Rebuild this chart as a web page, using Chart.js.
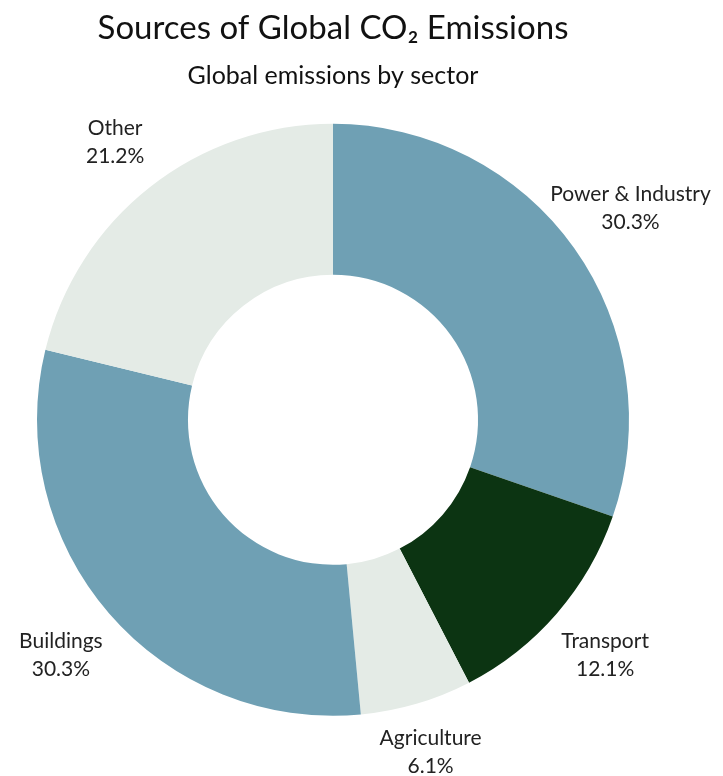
<!DOCTYPE html>
<html>
<head>
<meta charset="utf-8">
<title>Sources of Global CO2 Emissions</title>
<script src="https://cdn.jsdelivr.net/npm/chart.js@4/dist/chart.umd.min.js"></script>
<style>
  html, body { margin: 0; padding: 0; background: #fff; }
  #wrap { width: 723px; height: 776px; position: relative; }
</style>
</head>
<body>
<div id="wrap"><canvas id="co2Chart"></canvas></div>
<script>
const sectors = ["Power & Industry", "Transport", "Agriculture", "Buildings", "Other"];
const shares = [30.3, 12.1, 6.1, 30.3, 21.2];
const sectorColors = ["#6fa0b4", "#0c3412", "#e4ebe6", "#6fa0b4", "#e4ebe6"];

const FONT = "Lato, 'Noto Sans', sans-serif";

// labels sit outside the ring; the nearest edge of the text box touches
// a point a little beyond the outer radius
const outsideLabels = {
  id: "outsideLabels",
  afterDatasetsDraw(chart) {
    const ctx = chart.ctx;
    const meta = chart.getDatasetMeta(0);
    const lineGap = 28;
    ctx.save();
    ctx.font = "21px " + FONT;
    ctx.fillStyle = "#222";
    ctx.textAlign = "center";
    ctx.textBaseline = "middle";
    meta.data.forEach((arc, i) => {
      const p = arc.getProps(["x", "y", "startAngle", "endAngle", "outerRadius"], true);
      const mid = (p.startAngle + p.endAngle) / 2;
      const dx = Math.cos(mid), dy = Math.sin(mid);
      const line1 = sectors[i];
      const line2 = shares[i].toFixed(1) + "%";
      const halfW = Math.max(ctx.measureText(line1).width, ctx.measureText(line2).width) / 2;
      const halfH = lineGap;
      const tx = Math.abs(dx) > 1e-6 ? halfW / Math.abs(dx) : Infinity;
      const ty = Math.abs(dy) > 1e-6 ? halfH / Math.abs(dy) : Infinity;
      const r = p.outerRadius + 21 + Math.min(tx, ty);
      const x = p.x + dx * r;
      const y = p.y + dy * r;
      ctx.fillText(line1, x, y - lineGap / 2);
      ctx.fillText(line2, x, y + lineGap / 2);
    });
    ctx.restore();
  }
};

new Chart(document.getElementById("co2Chart"), {
  type: "doughnut",
  data: {
    labels: sectors,
    datasets: [
      {
        data: shares,
        backgroundColor: sectorColors,
        borderWidth: 0
      }
    ]
  },
  options: {
    responsive: true,
    maintainAspectRatio: false,
    animation: false,
    cutout: "49%",
    layout: { padding: { left: 37, right: 94, top: 0, bottom: 60 } },
    plugins: {
      legend: { display: false },
      tooltip: { enabled: false },
      title: {
        display: true,
        text: "Sources of Global CO\u2082 Emissions",
        color: "#111",
        font: { family: FONT, size: 33, weight: "normal" },
        padding: { top: 9, bottom: 0 }
      },
      subtitle: {
        display: true,
        text: "Global emissions by sector",
        color: "#111",
        font: { family: FONT, size: 25, weight: "normal" },
        padding: { top: 12, bottom: 33 }
      }
    }
  },
  plugins: [outsideLabels]
});
</script>
</body>
</html>
